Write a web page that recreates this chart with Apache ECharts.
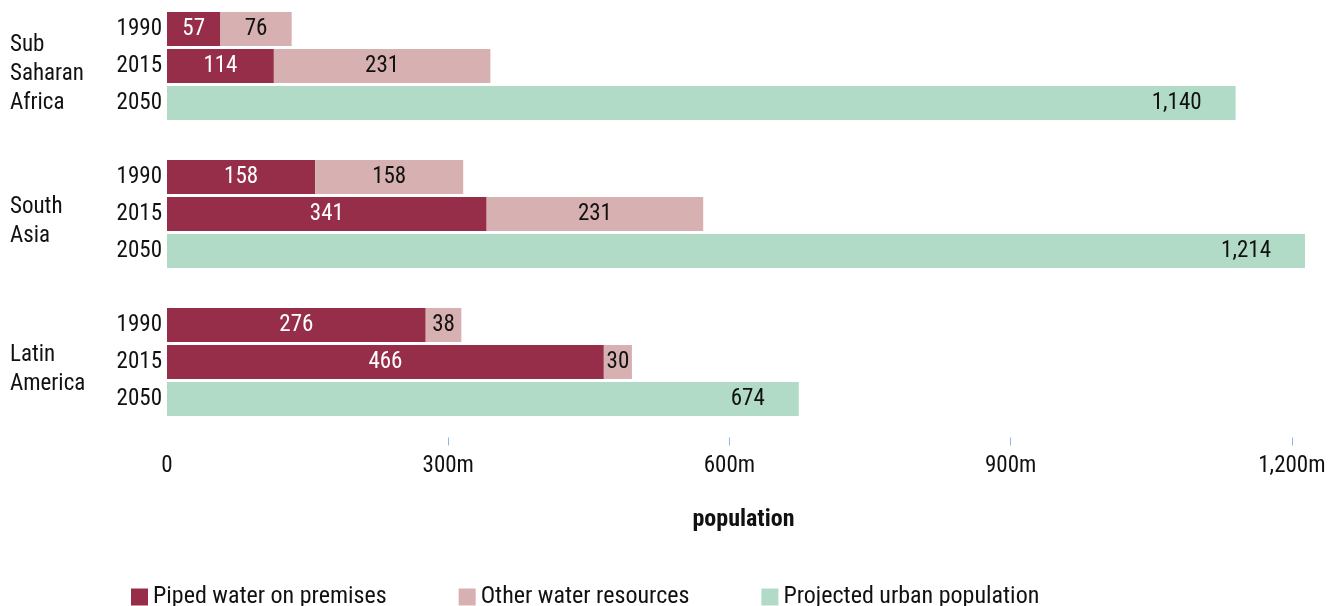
<!DOCTYPE html>
<html>
<head>
<meta charset="utf-8">
<script src="https://cdn.jsdelivr.net/npm/echarts@6/dist/echarts.min.js"></script>
<style>html,body{margin:0;padding:0;background:#fff}#c{width:1330px;height:606px}</style>
</head>
<body>
<div id="c"></div>
<script>
// Row labels (blank rows separate the region groups)
const yearLabels = ['1990', '2015', '2050', '', '1990', '2015', '2050', '', '1990', '2015', '2050'];
const regionLabels = ['', 'Sub\nSaharan\nAfrica', '', '', '', 'South\nAsia', '', '', '', 'Latin\nAmerica', ''];
// Values in millions
const piped     = [57, 114, null, null, 158, 341, null, null, 276, 466, null];
const other     = [76, 231, null, null, 158, 231, null, null, 38, 30, null];
const projected = [null, null, 1140, null, null, null, 1214, null, null, null, 674];
const xTicks = [0, 300, 600, 900, 1200];
const seriesNames = ['Piped water on premises', 'Other water resources', 'Projected urban population'];

const FONT = "'Roboto Condensed', 'Liberation Sans Narrow', 'Arial Narrow', Roboto, sans-serif";
const fmtNum = v => Number(v).toLocaleString('en-US');

const chart = echarts.init(document.getElementById('c'), null, {renderer: 'canvas'});
chart.setOption({
  animation: false,
  textStyle: {fontFamily: FONT},
  grid: [
    {left: 167, right: 10, top: 10.5, bottom: 188.5, containLabel: false},
    {left: 167, right: 10, top: 18.5, bottom: 180.5, containLabel: false}
  ],
  xAxis: [{
    type: 'value', gridIndex: 0, min: 0, max: 1230, offset: 20,
    axisLine: {show: false},
    splitLine: {show: false},
    axisTick: {show: true, length: 8, customValues: xTicks.slice(1), lineStyle: {color: '#8fb8e6', width: 1}},
    axisLabel: {
      customValues: xTicks, margin: 17, fontSize: 23, color: '#111', fontFamily: FONT,
      formatter: v => v === 0 ? '0' : fmtNum(v) + 'm'
    },
    name: 'population', nameLocation: 'middle', nameGap: 70,
    nameTextStyle: {fontSize: 24, fontWeight: 'bold', color: '#111', fontFamily: FONT}
  }, {
    type: 'value', gridIndex: 1, min: 0, max: 1230, show: false
  }],
  yAxis: [{
    type: 'category', gridIndex: 0, inverse: true, data: yearLabels,
    axisLine: {show: false}, axisTick: {show: false},
    axisLabel: {fontSize: 23, color: '#111', margin: 5, fontFamily: FONT}
  }, {
    type: 'category', gridIndex: 1, inverse: true, position: 'left', data: regionLabels,
    axisLine: {show: false}, axisTick: {show: false}, splitLine: {show: false},
    axisLabel: {fontSize: 23, color: '#111', margin: 157, align: 'left', lineHeight: 29,
      fontFamily: FONT, interval: 0}
  }],
  legend: {
    top: 580, left: 126, itemWidth: 17, itemHeight: 17, itemGap: 72,
    icon: 'rect',
    textStyle: {fontSize: 24, color: '#111', fontFamily: FONT},
    data: seriesNames
  },
  series: [{
    name: seriesNames[0], type: 'bar', stack: 'a', barWidth: 34, data: piped,
    itemStyle: {color: '#962d49'},
    label: {show: true, position: 'inside', color: '#fff', fontSize: 23, fontFamily: FONT, formatter: p => fmtNum(p.value)}
  }, {
    name: seriesNames[1], type: 'bar', stack: 'a', barWidth: 34, data: other,
    itemStyle: {color: '#d7b1b2'},
    label: {show: true, position: 'inside', color: '#111', fontSize: 23, fontFamily: FONT, formatter: p => fmtNum(p.value)}
  }, {
    name: seriesNames[2], type: 'bar', stack: 'a', barWidth: 34, data: projected,
    itemStyle: {color: '#b2dbc7'},
    label: {show: true, position: 'insideRight', distance: 34, color: '#111', fontSize: 23, fontFamily: FONT, formatter: p => fmtNum(p.value)}
  }]
});
</script>
</body>
</html>
